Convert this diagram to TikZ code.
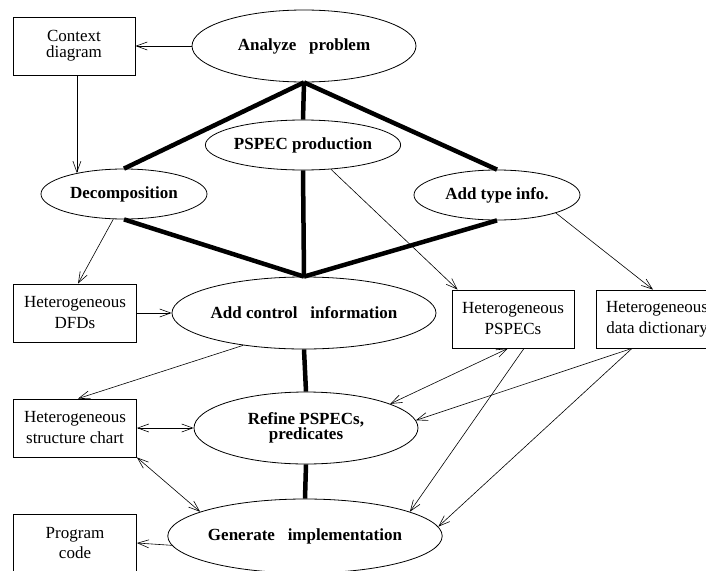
\documentclass[tikz,border=0pt]{standalone}
\usepackage{fontspec}
\setmainfont{Liberation Serif}
\usetikzlibrary{arrows.meta,shapes.geometric,calc}

\begin{document}
\begin{tikzpicture}[
    x=1pt, y=-1pt,
    process/.style={ellipse, draw, line width=0.8pt, inner sep=0pt,
        font=\fontsize{17}{18}\selectfont\bfseries, align=center},
    store/.style={rectangle, draw, line width=0.8pt, minimum width=123pt, minimum height=58pt,
        inner sep=0pt, font=\fontsize{17}{21}\selectfont, align=center},
    flow/.style={line width=0.6pt, -{Straight Barb[length=11pt,width=8pt]}},
    both/.style={line width=0.6pt, {Straight Barb[length=11pt,width=8pt]}-{Straight Barb[length=11pt,width=8pt]}},
    link/.style={line width=4.5pt},
]
\useasboundingbox (0,0) rectangle (706,570);
\clip (0,0) rectangle (706,570);

\node[process, minimum width=224pt, minimum height=72pt] (analyze) at (304,46) {Analyze\ \ \ problem};
\node[store, minimum width=122pt, font=\fontsize{17}{16}\selectfont] (context) at (74,46) {Context\\diagram};
\node[process, minimum width=166pt, minimum height=50pt] (decomp) at (124,194) {Decomposition};
\node[process, minimum width=168pt, minimum height=50pt] (pspec) at (303,145) {PSPEC production};
\node[process, minimum width=166pt, minimum height=50pt] (typeinfo) at (497,195) {Add type info.};
\node[process, minimum width=220pt, minimum height=72pt] (control) at (304,313) {Add control\ \ \ information};
\node[store] (dfds) at (75,313) {Heterogeneous\\DFDs};
\node[store, minimum width=122pt] (hpspecs) at (513,319) {Heterogeneous\\PSPECs};
\node[store, minimum width=122pt] (dict) at (657,319) {Heterogeneous\\data dictionary};
\node[process, minimum width=224pt, minimum height=72pt, font=\fontsize{17}{14}\selectfont\bfseries] (refine) at (306,428) {Refine PSPECs,\\predicates};
\node[store] (chart) at (75,428) {Heterogeneous\\structure chart};
\node[process, minimum width=222pt, minimum height=74pt] (generate) at (305,536) {Generate\ \ \ implementation};
\node[store, font=\fontsize{17}{20}\selectfont] (code) at (75,543) {Program\\code};

\draw[link] (analyze.south) -- (decomp.north);
\draw[link] (analyze.south) -- (pspec.north);
\draw[link] (analyze.south) -- (typeinfo.north);
\draw[link] (decomp.south) -- (control.north);
\draw[link] (pspec.south) -- (control.north);
\draw[link] (typeinfo.south) -- (control.north);
\draw[link] (control.south) -- (refine.north);
\draw[link] (refine.south) -- (generate.north);

\draw[flow] (analyze.west) -- (context.east);
\draw[flow] (context.south -| decomp.156) -- (decomp.156);
\draw[flow] (decomp.-113) -- ($(dfds.north)+(3,0)$);
\draw[flow] (dfds.east) -- (control.west);
\draw[flow] (pspec.-41) -- ($(hpspecs.north west)+(6,0)$);
\draw[flow] (typeinfo.-17) -- ($(dict.north)+(-4,0)$);
\draw[flow] (control.208) -- ($(chart.north)+(3,0)$);
\draw[both] (chart.east) -- (refine.west);
\draw[both] (chart.south east) -- (generate.167);
\draw[flow] (generate.184) -- (code.east);
\draw[both] ($(hpspecs.south)+(-5,0)$) -- (refine.16);
\draw[flow] ($(hpspecs.south)+(11,0)$) -- (generate.13);
\draw[flow] ($(dict.south)+(-25,0)$) -- (refine.4);
\draw[flow] ($(dict.south)+(-25,0)$) -- (generate.4);
\end{tikzpicture}
\end{document}
